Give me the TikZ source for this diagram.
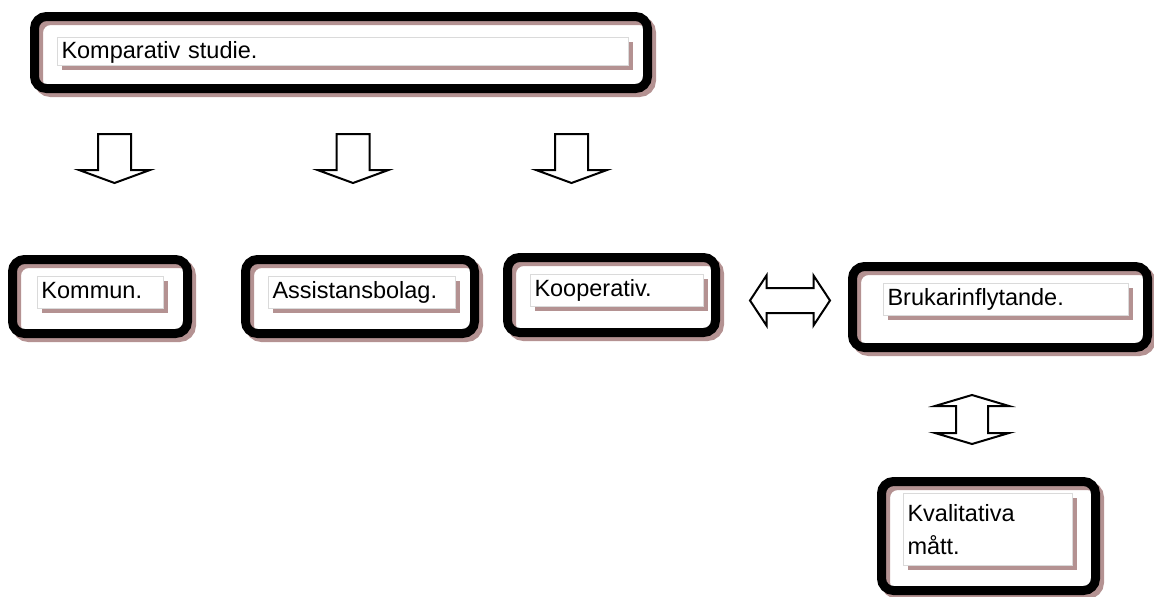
\documentclass[tikz,border=0pt]{standalone}
\usepackage{fontspec}
\setmainfont{Liberation Sans}
\definecolor{shadowc}{RGB}{180,146,146}
\definecolor{edgec}{RGB}{218,218,218}
\begin{document}
\begin{tikzpicture}[x=1pt,y=-1pt,
  outerbox/.style={draw=black, line width=9pt, rounded corners=12pt, inner sep=0pt,
    preaction={draw=shadowc, line width=9pt, transform canvas={shift={(4pt,-4pt)}}}},
  inbox/.style={fill=white, draw=edgec, line width=1pt,
    preaction={fill=shadowc, transform canvas={shift={(4pt,-4pt)}}},
    anchor=north west, inner xsep=4pt, inner ysep=0pt, align=left,
    font=\fontsize{23.5}{33}\selectfont},
  barrow/.style={draw=black, line width=2pt, fill=white, line join=miter},
  downarrow/.pic={\draw[barrow] (-16.5,0) -- (16.5,0) -- (16.5,36) -- (35.5,36) -- (0,49)
      -- (-35.5,36) -- (-16.5,36) -- cycle;},
  hdouble/.pic={\draw[barrow] (-40,0) -- (-23.5,-25) -- (-23.5,-12.5) -- (23.5,-12.5)
      -- (23.5,-25) -- (40,0) -- (23.5,25) -- (23.5,12.5) -- (-23.5,12.5) -- (-23.5,25) -- cycle;},
  vdouble/.pic={\draw[barrow] (0,-24.5) -- (37,-13.5) -- (16,-13.5) -- (16,13.5) -- (37,13.5)
      -- (0,24.5) -- (-37,13.5) -- (-16,13.5) -- (-16,-13.5) -- (-37,-13.5) -- cycle;}
]
\useasboundingbox (0,0) rectangle (1154,597);

% outer boxes
\node[outerbox, minimum width=613pt, minimum height=72pt] (topbox) at (341,52.5) {};
\node[outerbox, minimum width=175pt, minimum height=74pt] (kommunbox) at (100,296.5) {};
\node[outerbox, minimum width=229pt, minimum height=74pt] (assistbox) at (360,296.5) {};
\node[outerbox, minimum width=208pt, minimum height=75pt] (koopbox) at (611.5,295) {};
\node[outerbox, minimum width=295pt, minimum height=81pt] (brukbox) at (1000,307) {};
\node[outerbox, minimum width=214pt, minimum height=109pt] (kvalbox) at (988.5,536) {};

% inner text boxes
\node[inbox, text width=563pt, text height=21pt, text depth=7pt] (toptext) at (57,37) {Komparativ studie.};
\node[inbox, text width=118pt, text height=22pt, text depth=10pt] (kommuntext) at (37,276) {Kommun.};
\node[inbox, text width=179pt, text height=22pt, text depth=10pt] (assisttext) at (268,276) {Assistansbolag.};
\node[inbox, text width=165pt, text height=22pt, text depth=10pt] (kooptext) at (530,274) {Kooperativ.};
\node[inbox, text width=237pt, text height=22pt, text depth=10pt] (bruktext) at (883,283) {Brukarinflytande.};
\node[inbox, text width=161pt, inner ysep=11pt] (kvaltext) at (903,493) {Kvalitativa\\mått.};

% block arrows
\pic (a1) at (114.5,134) {downarrow};
\pic (a2) at (353,134) {downarrow};
\pic (a3) at (571.5,134) {downarrow};
\pic (h1) at (790,300.5) {hdouble};
\pic (v1) at (972,419.5) {vdouble};
\end{tikzpicture}
\end{document}
